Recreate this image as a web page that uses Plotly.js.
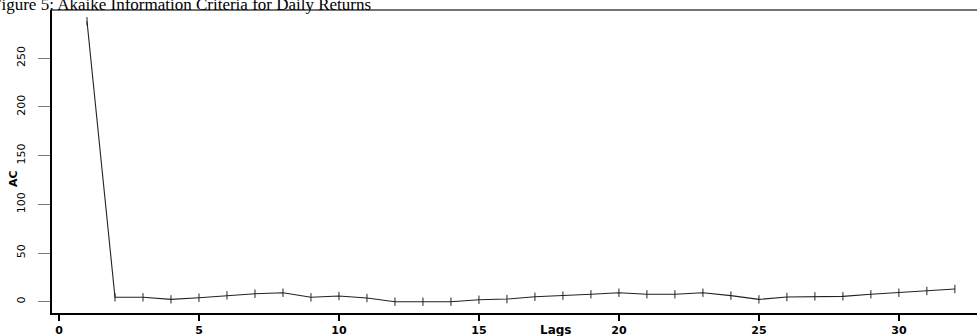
<!DOCTYPE html>
<html>
<head>
<meta charset="utf-8">
<script src="https://cdn.plot.ly/plotly-3.0.1.min.js"></script>
<style>
  html, body { margin: 0; padding: 0; background: #fff; }
  #chart { width: 977px; height: 336px; }
</style>
</head>
<body>
<div id="chart"></div>
<script>
// Akaike information criterion by lag length (daily returns)
const lags = [1, 2, 3, 4, 5, 6, 7, 8, 9, 10, 11, 12, 13, 14, 15, 16,
              17, 18, 19, 20, 21, 22, 23, 24, 25, 26, 27, 28, 29, 30, 31, 32];
const aic = [288, 4.5, 4.5, 2.4, 4.1, 6.5, 8.2, 9.2, 4.5, 5.8, 3.8, 0, 0, 0, 2, 2.7,
             5.1, 6.2, 7.6, 9.2, 7.6, 7.6, 9.2, 6.2, 2.4, 4.8, 5.5, 5.5, 7.6, 9.2, 11, 13];
const xTicks = [0, 5, 10, 15, 20, 25, 30];
const yTicks = [0, 50, 100, 150, 200, 250];

const figureTitle = "Figure 5: Akaike Information Criteria for Daily Returns";
const xLabel = "Lags";
const yLabel = "AC";

const trace = {
  x: lags,
  y: aic,
  type: "scatter",
  mode: "lines+markers",
  line: { color: "#222", width: 1.1 },
  marker: { symbol: "line-ns", size: 6, line: { color: "#222", width: 1 } },
  hoverinfo: "x+y"
};

const tickFont = { family: "DejaVu Sans, Arial, sans-serif", size: 11, color: "#000", weight: "bold" };

const layout = {
  width: 977,
  height: 336,
  margin: { l: 52, r: 0, t: 10, b: 23 },
  paper_bgcolor: "#fff",
  plot_bgcolor: "#fff",
  showlegend: false,
  xaxis: {
    range: [-0.25, 32.79],
    tickmode: "array",
    tickvals: xTicks,
    ticktext: xTicks.map(String),
    ticks: "outside",
    ticklen: 6,
    tickwidth: 1.5,
    tickcolor: "#000",
    showline: true,
    linecolor: "#000",
    linewidth: 2,
    showgrid: false,
    zeroline: false,
    tickfont: tickFont
  },
  yaxis: {
    range: [-11.6, 299.5],
    tickmode: "array",
    tickvals: yTicks,
    ticktext: yTicks.map(String),
    ticks: "outside",
    ticklen: 12,
    tickwidth: 1,
    tickcolor: "#777",
    tickangle: -90,
    ticklabelstandoff: 9,
    showline: true,
    linecolor: "#000",
    linewidth: 2,
    showgrid: false,
    zeroline: false,
    tickfont: { family: "DejaVu Sans, Arial, sans-serif", size: 11, color: "#000" }
  },
  shapes: [
    // thin frame line along the top of the plotting area
    { type: "line", xref: "paper", yref: "paper", x0: 0, x1: 1, y0: 1, y1: 1,
      line: { color: "#444", width: 1.5 } }
  ],
  annotations: [
    { text: figureTitle, xref: "paper", yref: "paper", x: -0.0665, y: 0.979,
      xanchor: "left", yanchor: "bottom", showarrow: false,
      font: { family: "Liberation Serif, Times New Roman, serif", size: 17, color: "#000" } },
    { text: yLabel, xref: "paper", yref: "paper", x: -0.0422, y: 0.4455,
      xanchor: "center", yanchor: "middle", textangle: -90, showarrow: false,
      font: { family: "DejaVu Sans, Arial, sans-serif", size: 11, color: "#000", weight: "bold" } },
    { text: xLabel, xref: "paper", yref: "paper", x: 0.5438, y: -0.0561,
      xanchor: "center", yanchor: "middle", showarrow: false,
      font: { family: "DejaVu Sans, Arial, sans-serif", size: 12, color: "#000", weight: "bold" } }
  ]
};

Plotly.newPlot("chart", [trace], layout, { displayModeBar: false, staticPlot: true });
</script>
</body>
</html>
